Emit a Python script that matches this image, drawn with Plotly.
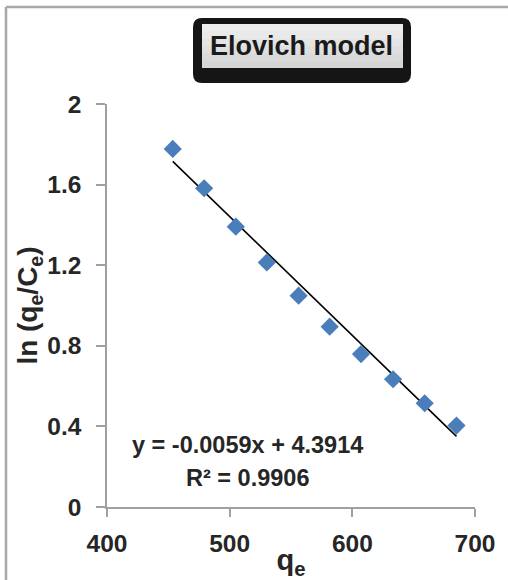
import plotly.graph_objects as go

# Elovich model data: equilibrium uptake q_e and ln(q_e/C_e)
qe = [453.6, 479.2, 505.0, 530.3, 556.2, 581.5, 607.1, 633.2, 659.0, 684.9]
ln_qe_ce = [1.777, 1.582, 1.391, 1.214, 1.049, 0.895, 0.759, 0.634, 0.515, 0.404]

# Linear fit reported on the chart
slope = -0.0059
intercept = 4.3914
r_squared = 0.9906

x_ticks = [400, 500, 600, 700]
y_ticks = [0, 0.4, 0.8, 1.2, 1.6, 2]
y_tick_text = ["0", "0.4", "0.8", "1.2", "1.6", "2"]

FONT = "Liberation Sans"
TEXT = "#262626"
AXIS = "#a0a0a0"

# plot area in pixels (width 508, height 580)
L, R, T, B = 107, 475, 104, 507
W, H = 508, 580


def px(x):
    return (x - L) / (R - L)


def py(y):
    return (B - y) / (B - T)


def rounded_rect(x0, y0, x1, y1, r):
    rx = r / (R - L)
    ry = r / (B - T)
    a0, a1 = px(x0), px(x1)
    b0, b1 = py(y1), py(y0)  # bottom, top in paper units
    return (
        f"M {a0 + rx},{b0} L {a1 - rx},{b0} Q {a1},{b0} {a1},{b0 + ry} "
        f"L {a1},{b1 - ry} Q {a1},{b1} {a1 - rx},{b1} "
        f"L {a0 + rx},{b1} Q {a0},{b1} {a0},{b1 - ry} "
        f"L {a0},{b0 + ry} Q {a0},{b0} {a0 + rx},{b0} Z"
    )


fit_x = [qe[0], qe[-1]]
fit_y = [slope * v + intercept for v in fit_x]

fig = go.Figure()
fig.add_trace(go.Scatter(
    x=fit_x, y=fit_y, mode="lines",
    line=dict(color="#000000", width=1.6),
    showlegend=False, hoverinfo="skip",
))
fig.add_trace(go.Scatter(
    x=qe, y=ln_qe_ce, mode="markers",
    marker=dict(symbol="diamond", size=14, color="#4a7ebb", line=dict(width=0)),
    showlegend=False,
))

shapes = []
# outer chart frame (left and top edges)
shapes.append(dict(type="line", xref="paper", yref="paper",
                   x0=px(6), x1=px(W + 2), y0=py(7), y1=py(7),
                   line=dict(color="#a8a8a8", width=2.5)))
shapes.append(dict(type="line", xref="paper", yref="paper",
                   x0=px(6), x1=px(6), y0=py(7), y1=py(H + 2),
                   line=dict(color="#a8a8a8", width=2.5)))
# title badge: dark rounded frame with a light gray face
shapes.append(dict(type="path", xref="paper", yref="paper",
                   path=rounded_rect(193, 18, 411, 83, 9),
                   fillcolor="#151515", line=dict(width=0)))
face_top, face_bot = 24, 68
shades = ["#eeeeee", "#e9e9e9", "#e4e4e4", "#dfdfdf", "#dadada", "#d5d5d5"]
step = (face_bot - face_top) / len(shades)
for i, c in enumerate(shades):
    # each band runs to the bottom of the face so the next band covers it
    shapes.append(dict(type="rect", xref="paper", yref="paper",
                       x0=px(202), x1=px(403),
                       y0=py(face_bot), y1=py(face_top + step * i),
                       fillcolor=c, line=dict(width=0)))

annotations = [
    dict(text="Elovich model", xref="paper", yref="paper",
         x=px(301), y=py(46), showarrow=False, xanchor="center", yanchor="middle",
         font=dict(family=FONT, size=27, color="#1a1a1a", weight="bold")),
    dict(text=f"y = {slope}x + {intercept}", xref="paper", yref="paper",
         x=px(247), y=py(445), showarrow=False, xanchor="center", yanchor="middle",
         font=dict(family=FONT, size=23.5, color=TEXT, weight="bold")),
    dict(text=f"R² = {r_squared}", xref="paper", yref="paper",
         x=px(247), y=py(478), showarrow=False, xanchor="center", yanchor="middle",
         font=dict(family=FONT, size=23.5, color=TEXT, weight="bold")),
]

fig.update_layout(
    width=W, height=H,
    margin=dict(l=L, r=W - R, t=T, b=H - B, pad=0),
    paper_bgcolor="white", plot_bgcolor="white",
    shapes=shapes, annotations=annotations,
    font=dict(family=FONT, color=TEXT),
    xaxis=dict(
        range=[400, 700], tickvals=x_ticks, ticktext=[str(v) for v in x_ticks],
        showgrid=False, zeroline=False, showline=True, automargin=False,
        linecolor=AXIS, linewidth=1.5,
        ticks="outside", ticklen=8, tickwidth=1.5, tickcolor=AXIS,
        ticklabelstandoff=6,
        tickfont=dict(family=FONT, size=24.5, color=TEXT, weight="bold"),
        title=dict(text="q<sub>e</sub>", standoff=2,
                   font=dict(family=FONT, size=29, color=TEXT, weight="bold")),
    ),
    yaxis=dict(
        range=[0, 2], tickvals=y_ticks, ticktext=y_tick_text,
        showgrid=False, zeroline=False, showline=True, automargin=False,
        linecolor=AXIS, linewidth=1.5,
        ticks="outside", ticklen=9, tickwidth=1.5, tickcolor=AXIS,
        ticklabelstandoff=10,
        tickfont=dict(family=FONT, size=24.5, color=TEXT, weight="bold"),
        title=dict(text="ln (q<sub>e</sub>/C<sub>e</sub>)", standoff=0,
                   font=dict(family=FONT, size=28, color=TEXT, weight="bold")),
    ),
)

fig.write_html("out.html")
